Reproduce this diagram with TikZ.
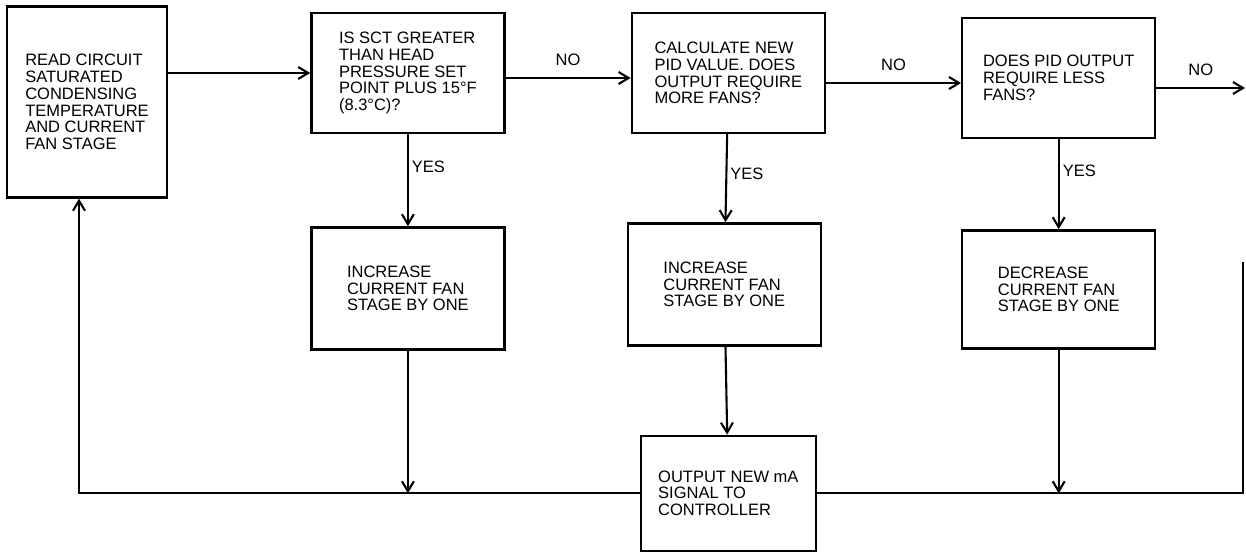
\documentclass[tikz,border=0pt]{standalone}
\usepackage{fontspec}
\setmainfont{Liberation Sans}
\usetikzlibrary{arrows.meta, positioning, calc}
\newcommand{\chartfont}{\fontsize{16.5}{16.7}\selectfont}

\begin{document}
\begin{tikzpicture}[
    x=1pt, y=-1pt,
    box/.style={draw, line width=2.4pt, minimum width=193pt, minimum height=120pt,
                align=left, inner sep=0pt, font=\chartfont},
    arr/.style={-{Straight Barb[length=10pt, width=12pt]}, line width=2.1pt},
    lbl/.style={font=\chartfont, inner sep=3pt}
]
    \useasboundingbox (0,0) rectangle (1246,552);

    % top row
    \node[box, minimum width=160pt, minimum height=191pt] (read) at (87,102)
        {READ CIRCUIT\\SATURATED\\CONDENSING\\TEMPERATURE\\AND CURRENT\\FAN STAGE};
    \node[box, right=142pt of read, yshift=29pt] (sct)
        {IS SCT GREATER\\THAN HEAD\\PRESSURE SET\\POINT PLUS 15°F\\(8.3°C)?};
    \node[box, right=125pt of sct] (pid)
        {CALCULATE NEW\\PID VALUE. DOES\\OUTPUT REQUIRE\\MORE FANS?};
    \node[box, right=135pt of pid, yshift=-5pt] (less)
        {DOES PID OUTPUT\\REQUIRE LESS\\FANS?};

    % lower row
    \node[box, minimum height=122pt, below=92pt of sct] (incone)
        {INCREASE\\CURRENT FAN\\STAGE BY ONE};
    \node[box, minimum height=122pt, below=88pt of pid, xshift=-4pt] (inctwo)
        {INCREASE\\CURRENT FAN\\STAGE BY ONE};
    \node[box, minimum height=118pt, below=90pt of less] (decr)
        {DECREASE\\CURRENT FAN\\STAGE BY ONE};
    \node[box, minimum width=175pt, minimum height=115pt, below=88pt of inctwo, xshift=4pt] (outsig)
        {OUTPUT NEW mA\\SIGNAL TO\\CONTROLLER};

    \coordinate (nextstep) at (1245,88);
    \coordinate (rightend) at (1243,262);

    \draw[arr] (read.east |- sct.west) -- (sct.west);
    \draw[arr] ($(sct.east)+(0,5)$) -- node[lbl, above=8pt] {NO} ($(pid.west)+(0,5)$);
    \draw[arr] ($(pid.east)+(0,10)$) -- node[lbl, above=8pt] {NO} ($(less.west)+(0,5)$);
    \draw[arr] ($(less.east)+(0,10)$) -- node[lbl, above=8pt] {NO} (nextstep);

    \draw[arr] (sct) -- node[lbl, right, pos=0.35] {YES} (incone);
    \draw[arr] (pid) -- node[lbl, right, pos=0.45] {YES} (inctwo);
    \draw[arr] (less) -- node[lbl, right, pos=0.35] {YES} (decr);

    \draw[arr] (inctwo) -- (outsig);
    \draw[arr] (incone.south) -- (incone.south |- outsig.west);
    \draw[arr] (decr.south) -- (decr.south |- outsig.east);
    \draw[line width=2.1pt] (outsig.east) -| (rightend);
    \draw[arr] (outsig.west) -| ([xshift=-8pt]read.south);
\end{tikzpicture}
\end{document}
